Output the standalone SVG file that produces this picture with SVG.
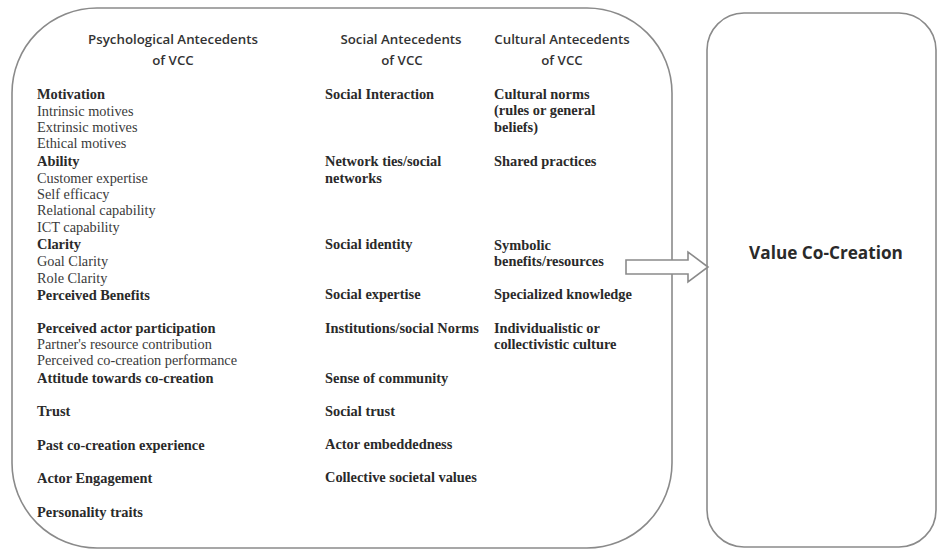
<svg xmlns="http://www.w3.org/2000/svg" width="938" height="550" viewBox="0 0 938 550">
<style>
.box{fill:#fff;stroke:#8a8a8a;stroke-width:1.6}
.hd{font-family:"Open Sans","Liberation Sans",sans-serif;font-size:13.3px;font-weight:600;fill:#333;text-anchor:middle}
.b{font-family:"Liberation Serif","Times New Roman",serif;font-size:14.4px;font-weight:bold;fill:#2a2a2a}
.n{font-family:"Liberation Serif","Times New Roman",serif;font-size:14.3px;fill:#3a3a3a}
.vc{font-family:"Open Sans","Liberation Sans",sans-serif;font-size:17.2px;font-weight:bold;fill:#2a2a2a;text-anchor:middle}
</style>
<rect width="938" height="550" fill="#fff"/>
<g id="antecedents">
<rect class="box" x="12" y="8" width="660" height="540" rx="85" ry="85"/>
<text class="hd" x="173" y="44">Psychological Antecedents</text>
<text class="hd" x="173" y="65">of VCC</text>
<text class="hd" x="401" y="44">Social Antecedents</text>
<text class="hd" x="402" y="65">of VCC</text>
<text class="hd" x="562" y="44">Cultural Antecedents</text>
<text class="hd" x="562" y="65">of VCC</text>

<text class="b" x="37" y="99">Motivation</text>
<text class="n" x="37" y="116">Intrinsic motives</text>
<text class="n" x="37" y="132">Extrinsic motives</text>
<text class="n" x="37" y="148">Ethical motives</text>
<text class="b" x="37" y="166">Ability</text>
<text class="n" x="37" y="183">Customer expertise</text>
<text class="n" x="37" y="199">Self efficacy</text>
<text class="n" x="37" y="215">Relational capability</text>
<text class="n" x="37" y="232">ICT capability</text>
<text class="b" x="37" y="249">Clarity</text>
<text class="n" x="37" y="266">Goal Clarity</text>
<text class="n" x="37" y="283">Role Clarity</text>
<text class="b" x="37" y="300">Perceived Benefits</text>
<text class="b" x="37" y="333">Perceived actor participation</text>
<text class="n" x="37" y="349">Partner's resource contribution</text>
<text class="n" x="37" y="365">Perceived co-creation performance</text>
<text class="b" x="37" y="383">Attitude towards co-creation</text>
<text class="b" x="37" y="416">Trust</text>
<text class="b" x="37" y="450">Past co-creation experience</text>
<text class="b" x="37" y="483">Actor Engagement</text>
<text class="b" x="37" y="517">Personality traits</text>

<text class="b" x="325" y="99">Social Interaction</text>
<text class="b" x="325" y="166">Network ties/social</text>
<text class="b" x="325" y="183">networks</text>
<text class="b" x="325" y="249">Social identity</text>
<text class="b" x="325" y="299">Social expertise</text>
<text class="b" x="325" y="333">Institutions/social Norms</text>
<text class="b" x="325" y="383">Sense of community</text>
<text class="b" x="325" y="416">Social trust</text>
<text class="b" x="325" y="449">Actor embeddedness</text>
<text class="b" x="325" y="482">Collective societal values</text>

<text class="b" x="494" y="99">Cultural norms</text>
<text class="b" x="494" y="115">(rules or general</text>
<text class="b" x="494" y="132">beliefs)</text>
<text class="b" x="494" y="166">Shared practices</text>
<text class="b" x="494" y="250">Symbolic</text>
<text class="b" x="494" y="266">benefits/resources</text>
<text class="b" x="494" y="299">Specialized knowledge</text>
<text class="b" x="494" y="333">Individualistic or</text>
<text class="b" x="494" y="349">collectivistic culture</text>
</g>
<g id="value-co-creation">
<rect class="box" x="707" y="13" width="229" height="534" rx="37" ry="37"/>
<text class="vc" x="826" y="259">Value Co-Creation</text>
</g>
<g id="connectors">
<path d="M626 260 H688 V252 L708 267 L688 282 V274 H626 Z" fill="#fff" stroke="#8a8a8a" stroke-width="1.6" stroke-linejoin="miter"/>
</g>
</svg>
